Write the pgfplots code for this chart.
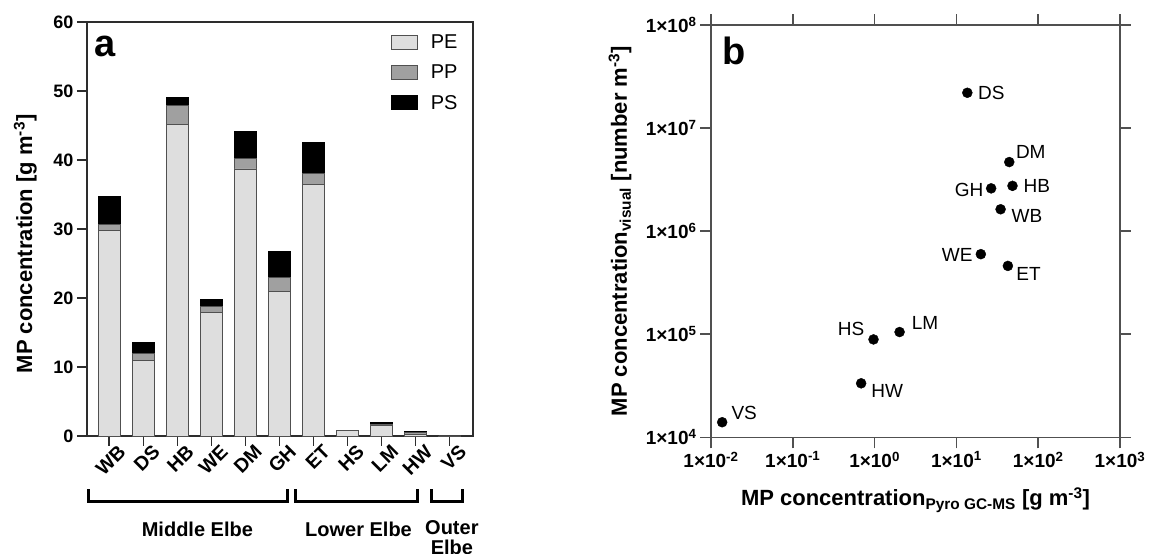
\documentclass[border=0pt]{standalone}
\usepackage{fontspec}
\setmainfont{Liberation Sans}
\usepackage{pgfplots}
\pgfplotsset{compat=1.18}
\usepackage{pgfplotstable}

\definecolor{peC}{RGB}{222,222,222}
\definecolor{ppC}{RGB}{160,160,160}
\definecolor{edgeC}{RGB}{80,80,80}
\definecolor{axC}{RGB}{45,45,45}
\definecolor{axB}{RGB}{80,80,80}

\newcommand{\tickfont}{\fontsize{18}{21}\selectfont\bfseries}
\newcommand{\catfont}{\fontsize{19.5}{22}\selectfont\bfseries}
\newcommand{\tickfontb}{\fontsize{19}{22}\selectfont\bfseries}
\newcommand{\labfont}{\fontsize{22}{25}\selectfont\bfseries}
\newcommand{\grpfont}{\fontsize{20}{22}\selectfont\bfseries}

% bar data (g m^-3)
\pgfplotstableread{
x   PE    PP    PS
0   29.8  0.9   4.0
1   11.0  1.0   1.6
2   45.2  2.7   1.2
3   17.9  0.9   1.0
4   38.7  1.5   3.9
5   21.0  2.0   3.8
6   36.5  1.5   4.5
7   0.80  0.02  0.01
8   1.60  0.10  0.28
9   0.25  0.25  0.13
10  0.01  0.00  0.00
}\barsdata

% scatter data (dx, dy: label centre offset in pt)
\pgfplotstableread{
x      y        lab  dx     dy
13.6   2.2e7    DS   24     0
44.3   4.68e6   DM   21.5   10
48.5   2.75e6   HB   24.4   0
26.6   2.6e6    GH   -22    -2
34.7   1.63e6   WB   26.3   -7
19.9   5.98e5   WE   -23.6  -1
42.6   4.6e5    ET   20.6   -8
0.97   8.9e4    HS   -22.4  10
2.02   1.05e5   LM   25.5   9
0.685  3.34e4   HW   26     -8
0.0137 1.4e4    VS   22     9
}\scatdata

\pgfplotsset{legimg/.style={legend image code/.code={\draw[##1] (0pt,-7pt) rectangle (26pt,7pt);}}}

\begin{document}
\begin{tikzpicture}
\path[use as bounding box] (0,0) rectangle (1149pt,554pt);

% ---------------- panel a ----------------
\begin{axis}[
  at={(87pt,118pt)}, anchor=south west,
  scale only axis, width=386pt, height=414pt,
  xmin=-0.65, xmax=10.68, ymin=0, ymax=60,
  ybar stacked, bar width=22pt,
  xtick={0,...,10},
  xticklabels={WB,DS,HB,WE,DM,GH,ET,HS,LM,HW,VS},
  ytick={0,10,...,60},
  xtick pos=left, ytick pos=left,
  tick align=outside, major tick length=10pt,
  axis line style={draw=axC, line width=1.3pt},
  tick style={draw=axC, line width=1.3pt},
  tick label style={font=\tickfont},
  /pgf/number format/assume math mode=true,
  x tick label style={font=\catfont, rotate=45, anchor=east, xshift=11pt, yshift=-11pt},
  ylabel={MP concentration [g m\textsuperscript{-3}]},
  ylabel style={at={(axis description cs:-0.16,0.464)}, anchor=center, font=\labfont},
  clip=false,
  legend style={at={(axis description cs:0.787,0.975)}, anchor=north west,
    draw=none, fill=none, inner sep=0pt, row sep=11pt,
    font=\fontsize{20}{23}\selectfont,
    /tikz/every odd column/.append style={column sep=11pt}},
  legend cell align=left,
]
\addplot[fill=peC, draw=edgeC, line width=0.8pt, legimg] table[x=x, y=PE]{\barsdata};
\addplot[fill=ppC, draw=edgeC, line width=0.8pt, legimg] table[x=x, y=PP]{\barsdata};
\addplot[fill=black, draw=black, line width=0.8pt, legimg] table[x=x, y=PS]{\barsdata};
\legend{PE,PP,PS}

\node[font=\fontsize{38}{40}\selectfont\bfseries] at (axis description cs:0.047,0.942) {a};

% group brackets
\draw[line width=3pt] (axis cs:-0.62,-7.7) -- (axis cs:-0.62,-9.55) -- (axis cs:5.24,-9.55) -- (axis cs:5.24,-7.7);
\draw[line width=3pt] (axis cs:5.47,-7.7) -- (axis cs:5.47,-9.55) -- (axis cs:9.06,-9.55) -- (axis cs:9.06,-7.7);
\draw[line width=3pt] (axis cs:9.47,-7.7) -- (axis cs:9.47,-9.55) -- (axis cs:10.38,-9.55) -- (axis cs:10.38,-7.7);
\node[font=\grpfont] at (axis cs:2.59,-13.6) {Middle Elbe};
\node[font=\grpfont] at (axis cs:7.32,-13.6) {Lower Elbe};
\node[font=\grpfont, align=center, inner sep=0pt] at (axis cs:10.06,-14.7) {Outer\\[-2pt]Elbe};
\end{axis}

% ---------------- panel b ----------------
\begin{axis}[
  at={(711pt,116.7pt)}, anchor=south west,
  scale only axis, width=409pt, height=412.3pt,
  xmode=log, ymode=log,
  xmin=1e-2, xmax=1e3, ymin=1e4, ymax=1e8,
  xtick={1e-2,1e-1,1,10,100,1000},
  ytick={1e4,1e5,1e6,1e7,1e8},
  xticklabels={1×10\textsuperscript{-2},1×10\textsuperscript{-1},1×10\textsuperscript{0},1×10\textsuperscript{1},1×10\textsuperscript{2},1×10\textsuperscript{3}},
  yticklabels={1×10\textsuperscript{4},1×10\textsuperscript{5},1×10\textsuperscript{6},1×10\textsuperscript{7},1×10\textsuperscript{8}},
  minor tick length=0pt, minor tick style={draw=none},
  xtick pos=both, ytick pos=both,
  xticklabel pos=left, yticklabel pos=left,
  tick align=outside, major tick length=11pt,
  axis line style={draw=axB, line width=1.5pt},
  tick style={draw=axB, line width=1.5pt},
  tick label style={font=\tickfontb},
  xlabel={MP concentration\textsubscript{Pyro GC-MS} [g m\textsuperscript{-3}]},
  ylabel={MP concentration\textsubscript{visual} [number m\textsuperscript{-3}]},
  xlabel style={at={(axis description cs:0.5,-0.152)}, anchor=center, font=\labfont},
  ylabel style={at={(axis description cs:-0.2225,0.5)}, anchor=center, font=\labfont},
  clip=false,
]
\addplot[only marks, mark=*, mark size=5pt, black,
  nodes near coords, point meta=explicit symbolic,
  visualization depends on={\thisrow{dx}\as\mydx},
  visualization depends on={\thisrow{dy}\as\mydy},
  every node near coord/.append style={anchor=center, xshift=\mydx pt, yshift=\mydy pt,
    inner sep=0pt, font=\fontsize{19}{22}\selectfont, text=black}]
  table[x=x, y=y, meta=lab]{\scatdata};
\node[font=\fontsize{38}{40}\selectfont\bfseries] at (axis description cs:0.056,0.937) {b};
\end{axis}
\end{tikzpicture}
\end{document}
